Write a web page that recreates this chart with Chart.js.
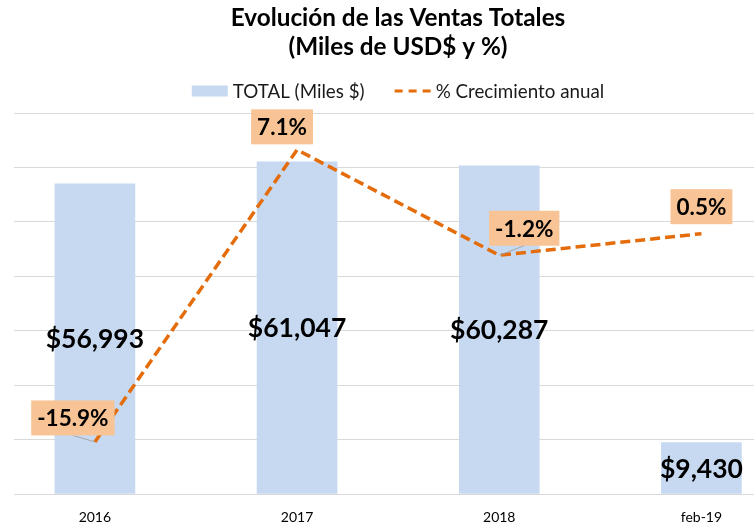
<!DOCTYPE html>
<html lang="es">
<head>
  <meta charset="UTF-8" />
  <title>Evolución de las Ventas Totales</title>
  <script src="https://cdn.jsdelivr.net/npm/chart.js@4.4.1/dist/chart.umd.min.js"></script>
  <style>
    html, body { margin: 0; padding: 0; background: #fff; }
    #wrap { width: 754px; height: 523px; }
  </style>
</head>
<body>
  <div id="wrap"><canvas id="ventas"></canvas></div>

  <script>
  // datos
  const categorias = ['2016', '2017', '2018', 'feb-19'];
  const totales    = [56993, 61047, 60287, 9430];
  const crecimiento = [-15.9, 7.1, -1.2, 0.5];

  // ubicación de las etiquetas de % respecto al punto (como en el original, movidas a mano)
  const etiquetasPct = [
    { dx: -22, dy: -24, guia: true },
    { dx: -15, dy: -23, guia: false },
    { dx: 25,  dy: -27, guia: true },
    { dx: 0,   dy: -27, guia: false }
  ];

  const FONT = 'Lato, "Open Sans", sans-serif';
  const AZUL = '#C6D9F1';
  const NARANJA = '#E46C0A';
  const DURAZNO = '#F8C496';
  const CENTRO_X = 398;   // el gráfico original está recortado: título y leyenda no quedan al centro del lienzo

  const fmtMiles = v => '$' + v.toLocaleString('en-US');
  const fmtPct = v => v.toFixed(1) + '%';

  // corre el bloque del título hacia el centro del original
  const centrarTitulo = {
    id: 'centrarTitulo',
    afterLayout(chart) {
      const t = chart.titleBlock;
      const d = CENTRO_X - (t.left + t.right) / 2;
      t.left += d; t.right += d;
    }
  };

  // leyenda dibujada a mano (separaciones como en Excel)
  const leyenda = {
    id: 'leyenda',
    afterDraw(chart) {
      const ctx = chart.ctx;
      const y = 91;
      ctx.save();
      ctx.font = '18.8px ' + FONT;
      ctx.textBaseline = 'middle';
      ctx.textAlign = 'left';
      const items = chart.data.datasets.map(ds => ds.label);
      const w1 = ctx.measureText(items[0]).width, w2 = ctx.measureText(items[1]).width;
      const total = 36 + 5 + w1 + 30 + 36 + 5 + w2;
      let x = CENTRO_X - total / 2;
      ctx.fillStyle = AZUL;
      ctx.fillRect(x, y - 5.5, 36, 11);
      ctx.fillStyle = '#1a1a1a';
      ctx.fillText(items[0], x + 41, y + 1);
      x += 41 + w1 + 30;
      ctx.strokeStyle = NARANJA;
      ctx.lineWidth = 3;
      ctx.setLineDash([8, 6]);
      ctx.beginPath();
      ctx.moveTo(x, y);
      ctx.lineTo(x + 36, y);
      ctx.stroke();
      ctx.setLineDash([]);
      ctx.fillText(items[1], x + 41, y + 1);
      ctx.restore();
    }
  };

  const etiquetas = {
    id: 'etiquetas',
    afterDatasetsDraw(chart) {
      const ctx = chart.ctx;
      ctx.save();

      // montos dentro de las barras
      const barras = chart.getDatasetMeta(0);
      ctx.font = 'bold 26.5px ' + FONT;
      ctx.fillStyle = '#000';
      ctx.textAlign = 'center';
      ctx.textBaseline = 'middle';
      barras.data.forEach((el, i) => {
        ctx.fillText(fmtMiles(totales[i]), el.x, (el.y + el.base) / 2 + 1);
      });

      // porcentajes con recuadro
      const linea = chart.getDatasetMeta(1);
      ctx.font = 'bold 22.5px ' + FONT;
      linea.data.forEach((pt, i) => {
        const o = etiquetasPct[i];
        const txt = fmtPct(crecimiento[i]);
        const w = ctx.measureText(txt).width + 12;
        const h = 35;
        const cx = pt.x + o.dx, cy = pt.y + o.dy;
        if (o.guia) {
          ctx.strokeStyle = '#A6A6A6';
          ctx.lineWidth = 1;
          ctx.beginPath();
          ctx.moveTo(cx, cy + h / 2);
          ctx.lineTo(pt.x, pt.y);
          ctx.stroke();
        }
        ctx.fillStyle = DURAZNO;
        ctx.fillRect(cx - w / 2, cy - h / 2, w, h);
        ctx.fillStyle = '#000';
        ctx.fillText(txt, cx, cy + 1);
      });
      ctx.restore();
    }
  };

  new Chart(document.getElementById('ventas'), {
    data: {
      datasets: [
        {
          type: 'bar',
          label: 'TOTAL (Miles $)',
          data: totales.map((v, i) => ({ x: i, y: v })),
          backgroundColor: AZUL,
          barThickness: 80,
          yAxisID: 'y',
          order: 2
        },
        {
          type: 'line',
          label: '% Crecimiento anual',
          data: crecimiento.map((v, i) => ({ x: i, y: v })),
          borderColor: NARANJA,
          borderWidth: 3.5,
          borderDash: [10, 5],
          pointRadius: 0,
          tension: 0,
          yAxisID: 'y2',
          order: 1
        }
      ]
    },
    options: {
      responsive: true,
      maintainAspectRatio: false,
      animation: false,
      layout: { padding: { left: 14, right: 0, top: 0, bottom: 0 } },
      plugins: {
        tooltip: { enabled: false },
        legend: { display: false },
        title: {
          display: true,
          text: ['Evolución de las Ventas Totales', '(Miles de USD$ y %)'],
          color: '#000',
          font: { family: FONT, size: 24.3, weight: 'bold', lineHeight: 1.2 },
          padding: { top: 3.5, bottom: 51.2 }
        }
      },
      scales: {
        x: {
          type: 'linear',
          offset: false,
          min: -0.4,
          max: 3.26,
          grid: { display: false, drawTicks: false },
          border: { display: false },
          afterBuildTicks: axis => { axis.ticks = categorias.map((c, i) => ({ value: i })); },
          afterFit: axis => { axis.height = 29; },
          ticks: {
            autoSkip: false,
            maxRotation: 0,
            padding: 16,
            color: '#000',
            font: { family: FONT, size: 14, lineHeight: 1 },
            callback: v => categorias[v]
          }
        },
        y: {
          min: 0,
          max: 70000,
          ticks: { display: false, stepSize: 10000 },
          grid: { color: '#D9D9D9', lineWidth: 1, drawTicks: false },
          border: { display: false }
        },
        y2: {
          display: false,
          position: 'right',
          min: -20,
          max: 10
        }
      }
    },
    plugins: [centrarTitulo, leyenda, etiquetas]
  });
  </script>
</body>
</html>
